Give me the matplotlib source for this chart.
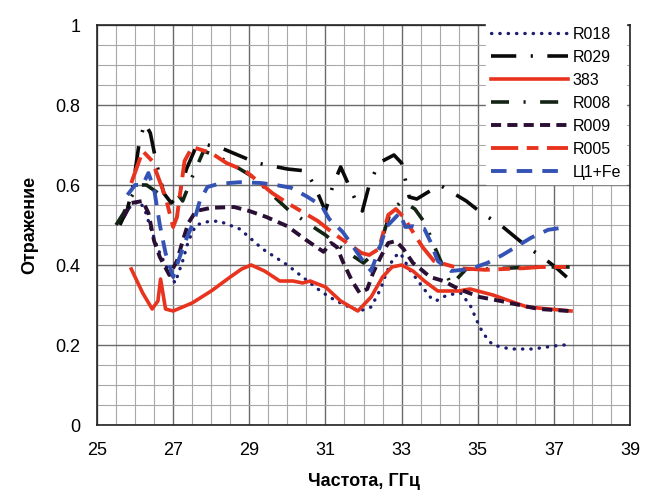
import matplotlib
matplotlib.use("Agg")
import matplotlib.pyplot as plt
from matplotlib.ticker import MultipleLocator, FixedLocator

plt.rcParams['font.family'] = ['Liberation Sans', 'DejaVu Sans']

# ---- data ----
r018_x = [25.6, 25.8, 26.1, 26.25, 26.4, 26.6, 26.85, 27.05, 27.25, 27.4, 27.6, 27.9, 28.2, 28.75, 29.35,
          30.0, 30.4, 30.8, 31.1, 31.5, 31.9, 32.2, 32.45, 32.6, 32.8, 32.97, 33.2, 33.55, 33.75, 33.9,
          34.2, 34.55, 34.8, 35.05, 35.25, 35.4, 35.85, 36.45, 37.2, 37.35]
r018_y = [0.51, 0.54, 0.56, 0.54, 0.495, 0.44, 0.39, 0.355, 0.41, 0.46, 0.50, 0.508, 0.51, 0.49, 0.44,
          0.40, 0.37, 0.34, 0.32, 0.30, 0.285, 0.295, 0.34, 0.38, 0.42, 0.43, 0.39, 0.345, 0.32, 0.31,
          0.325, 0.33, 0.30, 0.245, 0.215, 0.20, 0.19, 0.19, 0.20, 0.20]

r029_x = [25.6, 25.8, 25.95, 26.1, 26.25, 26.4, 26.55, 26.75, 26.95, 27.15, 27.35, 27.6, 27.9, 28.2,
          28.7, 29.2, 30.0, 30.5, 30.75, 31.0, 31.2, 31.4, 31.8, 31.97, 32.15, 32.4, 32.8, 33.0, 33.2,
          33.4, 34.0, 34.7, 35.1, 35.6, 36.3, 36.7, 37.1, 37.45]
r029_y = [0.50, 0.54, 0.60, 0.70, 0.755, 0.73, 0.66, 0.58, 0.555, 0.575, 0.64, 0.695, 0.70, 0.695,
          0.675, 0.655, 0.64, 0.635, 0.59, 0.535, 0.60, 0.645, 0.56, 0.535, 0.60, 0.655, 0.675, 0.655, 0.57,
          0.565, 0.60, 0.56, 0.53, 0.50, 0.445, 0.42, 0.39, 0.36]

s383_x = [25.9, 26.2, 26.45, 26.6, 26.67, 26.8, 27.0, 27.5, 28.0, 28.5, 28.8, 29.05, 29.4, 29.8, 30.15,
          30.4, 30.6, 31.0, 31.4, 31.85, 32.2, 32.5, 32.75, 33.0, 33.3, 33.6, 33.95, 34.5, 34.8, 35.4,
          36.3, 37.45]
s383_y = [0.39, 0.33, 0.29, 0.31, 0.365, 0.29, 0.285, 0.305, 0.335, 0.37, 0.39, 0.40, 0.385, 0.36, 0.36,
          0.355, 0.36, 0.345, 0.31, 0.285, 0.32, 0.37, 0.395, 0.40, 0.385, 0.36, 0.335, 0.335, 0.34, 0.325,
          0.295, 0.285]

r008_x = [25.5, 25.7, 25.9, 26.1, 26.3, 26.6, 26.9, 27.1, 27.25, 27.5, 27.8, 28.2, 28.7, 29.1, 29.55,
          30.0, 30.6, 31.0, 31.45, 32.0, 32.4, 32.7, 33.0, 33.35, 33.65, 33.8, 34.3, 34.7, 35.3, 36.45, 37.5]
r008_y = [0.50, 0.53, 0.57, 0.60, 0.60, 0.58, 0.555, 0.58, 0.56, 0.62, 0.685, 0.67, 0.643, 0.62, 0.58,
          0.54, 0.50, 0.475, 0.44, 0.405, 0.44, 0.53, 0.56, 0.54, 0.50, 0.46, 0.35, 0.39, 0.39, 0.395, 0.395]

r009_x = [25.7, 25.9, 26.2, 26.35, 26.5, 26.65, 26.9, 27.1, 27.25, 27.4, 27.6, 28.0, 28.6, 29.0, 29.45,
          30.0, 30.5, 30.95, 31.15, 31.3, 31.45, 31.7, 31.9, 32.1, 32.25, 32.45, 32.65, 32.85, 33.05,
          33.3, 33.5, 33.75, 34.1, 34.5, 35.05, 35.6, 36.1, 36.6, 37.4]
r009_y = [0.52, 0.555, 0.56, 0.53, 0.46, 0.42, 0.375, 0.41, 0.46, 0.505, 0.535, 0.543, 0.545, 0.535, 0.52,
          0.497, 0.462, 0.433, 0.455, 0.445, 0.41, 0.36, 0.33, 0.34, 0.38, 0.42, 0.455, 0.46, 0.44,
          0.405, 0.39, 0.37, 0.36, 0.34, 0.32, 0.31, 0.30, 0.29, 0.285]

r005_x = [25.9, 26.2, 26.45, 26.8, 27.0, 27.1, 27.3, 27.5, 28.0, 28.4, 28.9, 29.6, 30.0, 30.8, 31.2,
          31.95, 32.15, 32.4, 32.65, 32.85, 33.05, 33.55, 33.85, 34.5, 35.2, 36.2, 36.65, 37.45]
r005_y = [0.605, 0.685, 0.66, 0.57, 0.495, 0.52, 0.66, 0.695, 0.68, 0.655, 0.635, 0.58, 0.555, 0.51, 0.48,
          0.43, 0.425, 0.44, 0.525, 0.54, 0.52, 0.445, 0.41, 0.392, 0.388, 0.392, 0.395, 0.395]

c1fe_x = [25.8, 26.0, 26.2, 26.35, 26.5, 26.65, 26.8, 27.0, 27.1, 27.3, 27.55, 27.7, 27.9, 28.2, 28.75,
          29.3, 29.7, 30.1, 30.5, 30.9, 31.1, 31.45, 31.7, 31.95, 32.2, 32.45, 32.6, 32.95, 33.1, 33.3,
          33.6, 33.75, 33.95, 34.3, 34.8, 35.25, 35.65, 36.0, 36.4, 36.85, 37.35]
c1fe_y = [0.575, 0.60, 0.60, 0.63, 0.59, 0.50, 0.43, 0.37, 0.40, 0.455, 0.51, 0.56, 0.595, 0.603, 0.607,
          0.605, 0.60, 0.593, 0.572, 0.548, 0.515, 0.483, 0.45, 0.415, 0.385, 0.45, 0.495, 0.53, 0.495, 0.497,
          0.49, 0.46, 0.41, 0.385, 0.39, 0.405, 0.425, 0.445, 0.468, 0.488, 0.495]

labels = ['R018', 'R029', '383', 'R008', 'R009', 'R005', 'Ц1+Fe']
x_ticks = [25, 27, 29, 31, 33, 35, 37, 39]
y_ticks = [0, 0.2, 0.4, 0.6, 0.8, 1.0]
y_ticklabels = ['0', '0.2', '0.4', '0.6', '0.8', '1']

fig = plt.figure(figsize=(6.5, 4.92), dpi=100)
fig.patch.set_facecolor('white')
ax = fig.add_axes([97/650, 67/492, 533/650, 400/492])

ax.set_xlim(25, 39)
ax.set_ylim(0, 1)
ax.xaxis.set_major_locator(FixedLocator(x_ticks))
ax.xaxis.set_minor_locator(MultipleLocator(0.5))
ax.set_yticks(y_ticks)
ax.set_yticklabels(y_ticklabels)
ax.yaxis.set_minor_locator(MultipleLocator(0.05))
ax.grid(which='major', color='#6a6a6a', linewidth=1.0)
ax.grid(which='minor', color='#a8a8a8', linewidth=0.8)
ax.set_axisbelow(True)
ax.tick_params(which='both', length=0, labelsize=13)
ax.tick_params(axis='x', pad=12)
ax.tick_params(axis='y', pad=12)
for s in ax.spines.values():
    s.set_color('#222222')
    s.set_linewidth(1.2)

ax.plot(r018_x, r018_y, color='#1c1c70', lw=2.4, linestyle=(0, (0.1, 2.4)),
        dash_capstyle='round', label=labels[0], zorder=3)
ax.plot(r029_x, r029_y, color='#0a0a0a', lw=2.6, linestyle=(0, (7, 4, 0.6, 4)),
        label=labels[1], zorder=3)
ax.plot(s383_x, s383_y, color='#e8341f', lw=2.6, linestyle='-', label=labels[2], zorder=3)
ax.plot(r008_x, r008_y, color='#142414', lw=2.6, linestyle=(0, (5, 4, 0.6, 4)),
        label=labels[3], zorder=3)
ax.plot(r009_x, r009_y, color='#2a0f35', lw=2.8, linestyle=(0, (2.6, 1.6)), label=labels[4], zorder=3)
ax.plot(r005_x, r005_y, color='#e8341f', lw=2.8, linestyle=(0, (7, 2.2, 3, 2.2)),
        label=labels[5], zorder=3)
ax.plot(c1fe_x, c1fe_y, color='#3453b5', lw=2.8, linestyle=(0, (4, 2.6)), label=labels[6], zorder=3)

leg = ax.legend(loc='upper right', bbox_to_anchor=(0.992, 1.008), borderaxespad=0,
                fontsize=11.5, handlelength=4.8, handletextpad=0.3, labelspacing=0.5,
                frameon=True, fancybox=False, facecolor='white', edgecolor='white',
                framealpha=1.0, borderpad=0.3)
leg.set_zorder(5)

ax.set_xlabel('Частота, ГГц', fontsize=13, fontweight='bold', labelpad=10)
ax.set_ylabel('Отражение', fontsize=13, fontweight='bold', labelpad=12)

fig.savefig('out.png', dpi=100, facecolor='white')
